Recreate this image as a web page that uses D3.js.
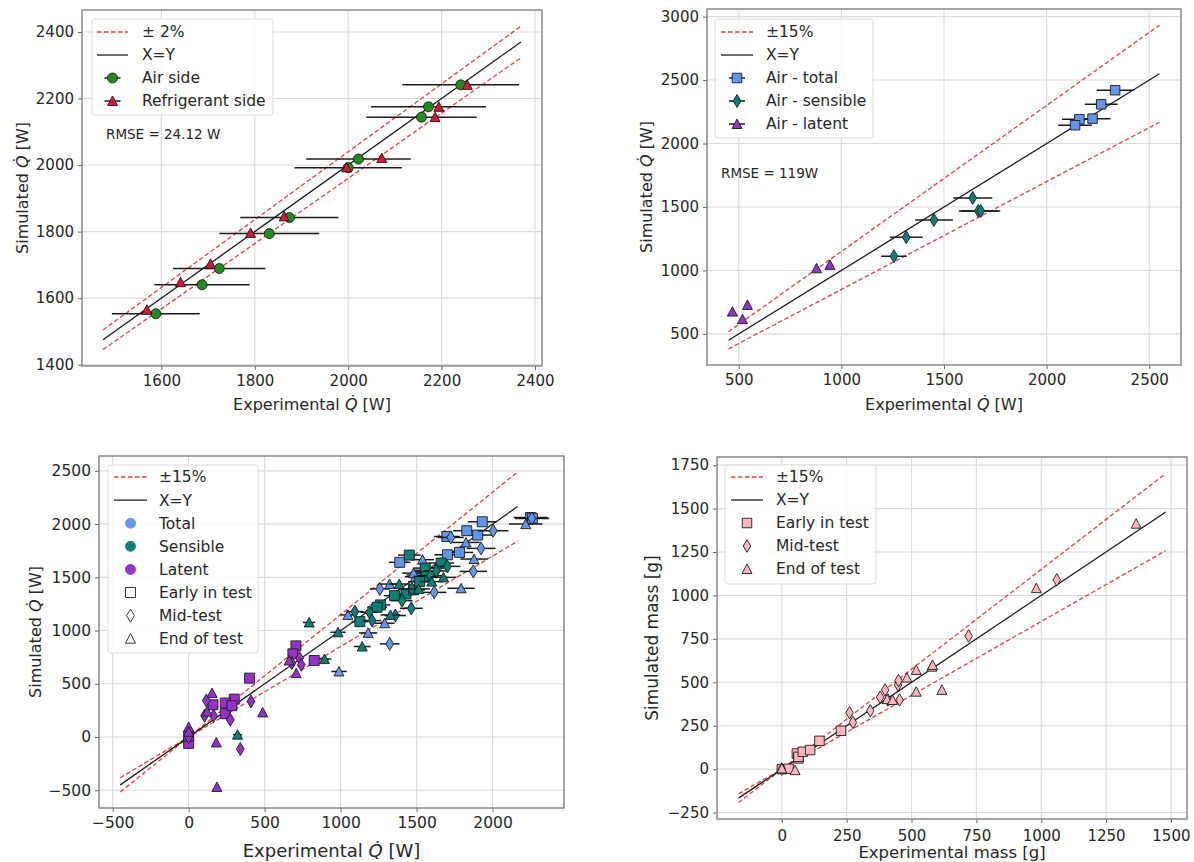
<!DOCTYPE html>
<html><head><meta charset="utf-8">
<script src="https://cdn.jsdelivr.net/npm/d3@7"></script>
<style>
body{margin:0;background:#fff}
svg{display:block}
text{font-family:"DejaVu Sans",sans-serif;fill:#262626}
</style>
</head><body>
<svg id="c" width="1194" height="862"></svg>
<script>
// ---------------- DATA ----------------
// Panel 1 (top-left): [experimental, simulated, x-error]
const p1AirSide = [[2241,2241,125],[2172,2175,123],[2157,2144,118],[2022,2018,112],[2000,1992,115],[1874,1842,105],[1831,1794,107],[1724,1689,99],[1687,1640,102],[1588,1553,94]];
const p1RefSide = [[2255,2241],[2194,2175],[2186,2144],[2072,2021],[1997,1993],[1863,1846],[1791,1796],[1705,1703],[1641,1648],[1569,1565]];
const p1Ticks = {x:[1600,1800,2000,2200,2400], y:[1400,1600,1800,2000,2200,2400]};
const p1Line = [1475, 2370];
const p1Band = 0.02;

// Panel 2 (top-right)
const p2Total = [[2334,2420,90],[2266,2309,80],[2224,2196,88],[2160,2191,85],[2139,2144,82]];
const p2Sensible = [[1640,1571,95],[1667,1469,95],[1679,1469,95],[1451,1398,92],[1316,1262,80],[1256,1112,62]];
const p2Latent = [[879,1017],[944,1044],[542,728],[469,676],[518,616]];
const p2Ticks = {x:[500,1000,1500,2000,2500], y:[500,1000,1500,2000,2500,3000]};
const p2Line = [450, 2550];
const p2Band = 0.15;

// Panel 3 (bottom-left)
const p3TotalEarly = [[1932,2022,95],[1830,1938,90],[1902,1897,95],[1699,1884,85],[1782,1734,90],[1703,1712,85],[1389,1641,70],[1509,1522,75],[1498,1506,75],[2249,2062,110],[2262,2055,110]];
const p3TotalMid = [[1725,1875,85],[2004,1938,100],[1924,1772,95],[1873,1556,90],[1616,1359,80],[1258,1391,65],[1323,875,65],[2258,2053,110],[1550,1560,75],[1640,1590,80]];
const p3TotalEnd = [[1825,1828,90],[1878,1672,90],[1793,1397,90],[1539,1666,75],[1323,1437,65],[1048,1147,50],[1290,1069,65],[1181,978,60],[989,616,50],[2218,2000,110],[1480,1540,75]];
const p3SensEarly = [[1452,1709,75],[1557,1587,80],[1561,1509,80],[1662,1634,85],[1354,1328,70],[1430,1344,70],[1262,1241,65],[1240,1219,65],[1127,1084,55],[1480,1382,75],[1520,1460,75]];
const p3SensMid = [[1094,1178,55],[1190,1172,60],[1207,1094,60],[1360,1141,70],[1465,1209,75],[1404,1281,70],[1590,1516,80],[1703,1603,85],[1469,1391,75],[1630,1560,80]];
const p3SensEnd = [[1677,1500,85],[983,984,50],[1142,850,55],[1386,1437,70],[1513,1391,75],[1328,1147,65],[793,1076,40],[894,732,45],[322,22,30],[1600,1460,80]];
const p3LatEarly = [[706,856],[686,781],[826,719],[401,553],[300,356],[241,319],[241,219],[160,303],[285,294],[0,-60],[0,10]];
const p3LatMid = [[730,741],[741,678],[679,694],[410,334],[116,343],[105,200],[164,200],[274,162],[340,-113],[0,0]];
const p3LatEnd = [[662,719],[708,600],[154,413],[121,240],[487,231],[182,-51],[186,-469],[0,94],[0,50]];
const p3Ticks = {x:[-500,0,500,1000,1500,2000], y:[-500,0,500,1000,1500,2000,2500]};
const p3Line = [-450, 2165];
const p3Band = 0.15;

// Panel 4 (bottom-right)
const p4Early = [[0,0],[26,2],[58,90],[64,62],[64,71],[81,100],[109,110],[145,163],[228,221]];
const p4Mid = [[0,0],[261,325],[274,269],[341,336],[379,414],[398,456],[409,398],[454,398],[448,485],[450,510],[720,767],[1060,1090]];
const p4End = [[0,4],[51,-6],[406,403],[427,398],[482,527],[518,571],[518,446],[578,590],[581,600],[617,456],[981,1042],[1366,1413]];
const p4Ticks = {x:[0,250,500,750,1000,1250,1500], y:[-250,0,250,500,750,1000,1250,1500,1750]};
const p4Line = [-167, 1480];
const p4Band = 0.15;

// ---------------- DRAWING ----------------
const svg = d3.select('#c');
const C = {green:'#228B22', crimson:'#DC143C', blue:'#6495ED', teal:'#0e7f76', purple:'#9432cc', pink:'#ffb6c1', red:'#e3403f'};

function markerPath(t, s){
  const h = s/2;
  switch(t){
    case 'circle': return `M${h},0A${h},${h} 0 1,1 ${-h},0A${h},${h} 0 1,1 ${h},0Z`;
    case 'square': return `M${-h},${-h}H${h}V${h}H${-h}Z`;
    case 'diamond': { const w = h*0.6; return `M0,${-h}L${w},0L0,${h}L${-w},0Z`; }
    case 'triangle': return `M0,${-h}L${-h},${h*0.9}L${h},${h*0.9}Z`;
  }
}

function addLabel(sel, parts, size){
  parts.forEach(p=>{
    const t = sel.append('tspan').text(p.t);
    if(p.i) t.attr('font-style','italic');
  });
  sel.attr('font-size', size);
}

function panel(cfg){
  const x = d3.scaleLinear().domain(cfg.xDomain).range([cfg.left, cfg.right]);
  const y = d3.scaleLinear().domain(cfg.yDomain).range([cfg.bottom, cfg.top]);
  const g = svg.append('g');
  const clipId = 'clip' + cfg.id;
  svg.append('clipPath').attr('id', clipId).append('rect')
    .attr('x', cfg.left).attr('y', cfg.top).attr('width', cfg.right-cfg.left).attr('height', cfg.bottom-cfg.top);

  // grid
  const grid = g.append('g').attr('stroke', '#dadada').attr('stroke-width', 1.1);
  grid.selectAll('.gx').data(cfg.ticks.x).join('line')
    .attr('x1', d=>x(d)).attr('x2', d=>x(d)).attr('y1', cfg.top).attr('y2', cfg.bottom);
  grid.selectAll('.gy').data(cfg.ticks.y).join('line')
    .attr('y1', d=>y(d)).attr('y2', d=>y(d)).attr('x1', cfg.left).attr('x2', cfg.right);

  // axes
  const fmt = d3.format('d');
  const xa = g.append('g').attr('transform', `translate(0,${cfg.bottom})`)
    .call(d3.axisBottom(x).tickValues(cfg.ticks.x).tickSize(4).tickPadding(cfg.xPad || 5).tickFormat(fmt));
  const ya = g.append('g').attr('transform', `translate(${cfg.left},0)`)
    .call(d3.axisLeft(y).tickValues(cfg.ticks.y).tickSize(4).tickPadding(4).tickFormat(fmt));
  [xa, ya].forEach(a=>{
    a.select('.domain').remove();
    a.selectAll('line').attr('stroke', '#666');
    a.selectAll('text').attr('font-size', cfg.tickSize || 15).attr('fill', '#262626')
      .style('font-family', '"DejaVu Sans",sans-serif');
  });

  const plot = g.append('g').attr('clip-path', `url(#${clipId})`);
  // reference lines
  const L = cfg.line;
  plot.append('line').attr('x1', x(L[0])).attr('y1', y(L[0]*(1+cfg.band))).attr('x2', x(L[1])).attr('y2', y(L[1]*(1+cfg.band)))
    .attr('stroke', C.red).attr('stroke-width', 1.3).attr('stroke-dasharray', '4.5,2.5');
  plot.append('line').attr('x1', x(L[0])).attr('y1', y(L[0]*(1-cfg.band))).attr('x2', x(L[1])).attr('y2', y(L[1]*(1-cfg.band)))
    .attr('stroke', C.red).attr('stroke-width', 1.3).attr('stroke-dasharray', '4.5,2.5');
  plot.append('line').attr('x1', x(L[0])).attr('y1', y(L[0])).attr('x2', x(L[1])).attr('y2', y(L[1]))
    .attr('stroke', '#1a1a1a').attr('stroke-width', 1.3);

  // series
  cfg.series.forEach(s=>{
    if(s.err){
      plot.append('g').selectAll('line').data(s.data.filter(d=>d[2])).join('line')
        .attr('x1', d=>x(d[0]-d[2])).attr('x2', d=>x(d[0]+d[2]))
        .attr('y1', d=>y(d[1])).attr('y2', d=>y(d[1]))
        .attr('stroke', '#1a1a1a').attr('stroke-width', 1.5);
    }
    plot.append('g').selectAll('path').data(s.data).join('path')
      .attr('d', markerPath(s.marker, s.size))
      .attr('transform', d=>`translate(${x(d[0])},${y(d[1])})`)
      .attr('fill', s.color).attr('stroke', '#1a1a1a').attr('stroke-width', 0.9);
  });

  // spines
  g.append('rect').attr('x', cfg.left).attr('y', cfg.top).attr('width', cfg.right-cfg.left).attr('height', cfg.bottom-cfg.top)
    .attr('fill', 'none').attr('stroke', '#777').attr('stroke-width', 1.3);

  // legend
  const lg = cfg.legend;
  g.append('rect').attr('x', lg.x).attr('y', lg.y).attr('width', lg.w).attr('height', lg.h).attr('rx', 3)
    .attr('fill', '#fff').attr('fill-opacity', 0.85).attr('stroke', '#dcdcdc').attr('stroke-width', 1);
  lg.items.forEach((it, i)=>{
    const yy = lg.row0 + i*lg.step;
    const hc = (lg.hx1 + lg.hx2)/2;
    if(it.kind === 'dash'){
      g.append('line').attr('x1', lg.hx1).attr('x2', lg.hx2).attr('y1', yy).attr('y2', yy)
        .attr('stroke', C.red).attr('stroke-width', 1.3).attr('stroke-dasharray', '4.5,2.5');
    } else if(it.kind === 'line'){
      g.append('line').attr('x1', lg.hx1).attr('x2', lg.hx2).attr('y1', yy).attr('y2', yy)
        .attr('stroke', '#1a1a1a').attr('stroke-width', 1.3);
    } else {
      if(it.bar){
        g.append('line').attr('x1', hc-8).attr('x2', hc+8).attr('y1', yy).attr('y2', yy)
          .attr('stroke', '#1a1a1a').attr('stroke-width', 1.5);
      }
      g.append('path').attr('d', markerPath(it.marker, it.size)).attr('transform', `translate(${hc},${yy})`)
        .attr('fill', it.color).attr('stroke', it.stroke || '#1a1a1a').attr('stroke-width', it.sw || 0.9);
    }
    g.append('text').attr('x', lg.tx).attr('y', yy + 5.4).attr('font-size', 15.5).text(it.label);
  });

  // RMSE note
  if(cfg.note){
    g.append('text').attr('x', cfg.note.x).attr('y', cfg.note.y).attr('font-size', 13.5).text(cfg.note.t);
  }

  // axis labels
  const xl = g.append('text').attr('x', (cfg.left+cfg.right)/2 + (cfg.xlOff||0)).attr('y', cfg.xlY).attr('text-anchor', 'middle');
  addLabel(xl, cfg.xlabel, cfg.xlSize || 16);
  const yl = g.append('text').attr('transform', `translate(${cfg.ylX},${(cfg.top+cfg.bottom)/2}) rotate(-90)`).attr('text-anchor', 'middle');
  addLabel(yl, cfg.ylabel, cfg.ylSize || 16);
}

const QX = [{t:'Experimental '},{t:'Q\u0307', i:true},{t:' [W]'}];
const QY = [{t:'Simulated '},{t:'Q\u0307', i:true},{t:' [W]'}];

panel({
  id: 1, left: 82, right: 542, top: 10, bottom: 366,
  xDomain: [1430, 2415], yDomain: [1396, 2466], ticks: p1Ticks,
  line: p1Line, band: p1Band,
  series: [
    {data: p1AirSide, marker: 'circle', size: 10, color: C.green, err: true},
    {data: p1RefSide, marker: 'triangle', size: 10, color: C.crimson}
  ],
  legend: {x: 92, y: 19, w: 181, h: 96, row0: 32, step: 23, hx1: 97, hx2: 128, tx: 142, items: [
    {kind: 'dash', label: '\u00b1 2%'},
    {kind: 'line', label: 'X=Y'},
    {kind: 'marker', label: 'Air side', marker: 'circle', size: 10, color: C.green, bar: true},
    {kind: 'marker', label: 'Refrigerant side', marker: 'triangle', size: 10, color: C.crimson, bar: true}
  ]},
  note: {x: 106, y: 139, t: 'RMSE = 24.12 W'},
  xlabel: QX, xlY: 410, ylabel: QY, ylX: 28
});

panel({
  id: 2, left: 707, right: 1181, top: 9, bottom: 365,
  xDomain: [345, 2655], yDomain: [255, 3060], ticks: p2Ticks,
  line: p2Line, band: p2Band,
  series: [
    {data: p2Total, marker: 'square', size: 9.5, color: C.blue, err: true},
    {data: p2Sensible, marker: 'diamond', size: 13, color: C.teal, err: true},
    {data: p2Latent, marker: 'triangle', size: 10, color: C.purple}
  ],
  legend: {x: 715, y: 19, w: 158, h: 119, row0: 32, step: 23, hx1: 721, hx2: 753, tx: 766, items: [
    {kind: 'dash', label: '\u00b115%'},
    {kind: 'line', label: 'X=Y'},
    {kind: 'marker', label: 'Air - total', marker: 'square', size: 9.5, color: C.blue, bar: true},
    {kind: 'marker', label: 'Air - sensible', marker: 'diamond', size: 13, color: C.teal, bar: true},
    {kind: 'marker', label: 'Air - latent', marker: 'triangle', size: 10, color: C.purple, bar: true}
  ]},
  note: {x: 721, y: 178, t: 'RMSE = 119W'},
  xlabel: QX, xlY: 410, ylabel: QY, ylX: 652
});

panel({
  id: 3, left: 99, right: 564, top: 456, bottom: 808,
  xDomain: [-590, 2470], yDomain: [-667, 2640], ticks: p3Ticks,
  line: p3Line, band: p3Band, tickSize: 15.5,
  series: [
    {data: p3TotalEarly, marker: 'square', size: 10, color: C.blue, err: true},
    {data: p3TotalMid, marker: 'diamond', size: 13, color: C.blue, err: true},
    {data: p3TotalEnd, marker: 'triangle', size: 10, color: C.blue, err: true},
    {data: p3SensEarly, marker: 'square', size: 10, color: C.teal, err: true},
    {data: p3SensMid, marker: 'diamond', size: 13, color: C.teal, err: true},
    {data: p3SensEnd, marker: 'triangle', size: 10, color: C.teal, err: true},
    {data: p3LatEarly, marker: 'square', size: 10, color: C.purple},
    {data: p3LatMid, marker: 'diamond', size: 13, color: C.purple},
    {data: p3LatEnd, marker: 'triangle', size: 10, color: C.purple}
  ],
  legend: {x: 108, y: 465, w: 150, h: 188, row0: 477, step: 23.1, hx1: 114, hx2: 147, tx: 159, items: [
    {kind: 'dash', label: '\u00b115%'},
    {kind: 'line', label: 'X=Y'},
    {kind: 'marker', label: 'Total', marker: 'circle', size: 10, color: C.blue, stroke: C.blue},
    {kind: 'marker', label: 'Sensible', marker: 'circle', size: 10, color: C.teal, stroke: C.teal},
    {kind: 'marker', label: 'Latent', marker: 'circle', size: 10, color: C.purple, stroke: C.purple},
    {kind: 'marker', label: 'Early in test', marker: 'square', size: 10, color: 'none', stroke: '#333', sw: 1},
    {kind: 'marker', label: 'Mid-test', marker: 'diamond', size: 13, color: 'none', stroke: '#333', sw: 1},
    {kind: 'marker', label: 'End of test', marker: 'triangle', size: 10, color: 'none', stroke: '#333', sw: 1}
  ]},
  xlabel: QX, xlY: 857, xlSize: 18, ylabel: QY, ylX: 41
});

panel({
  id: 4, left: 717, right: 1187, top: 457, bottom: 819,
  xDomain: [-250, 1562], yDomain: [-287, 1797], ticks: p4Ticks,
  line: p4Line, band: p4Band, xPad: 7,
  series: [
    {data: p4Early, marker: 'square', size: 9.5, color: C.pink},
    {data: p4Mid, marker: 'diamond', size: 12.5, color: C.pink},
    {data: p4End, marker: 'triangle', size: 10, color: C.pink}
  ],
  legend: {x: 725, y: 465, w: 151, h: 119, row0: 477, step: 23, hx1: 731, hx2: 763, tx: 776, items: [
    {kind: 'dash', label: '\u00b115%'},
    {kind: 'line', label: 'X=Y'},
    {kind: 'marker', label: 'Early in test', marker: 'square', size: 9.5, color: C.pink},
    {kind: 'marker', label: 'Mid-test', marker: 'diamond', size: 12.5, color: C.pink},
    {kind: 'marker', label: 'End of test', marker: 'triangle', size: 10, color: C.pink}
  ]},
  xlabel: [{t:'Experimental mass [g]'}], xlY: 858, xlSize: 16.5,
  ylabel: [{t:'Simulated  mass [g]'}], ylX: 658, ylSize: 17
});
</script>
</body></html>
